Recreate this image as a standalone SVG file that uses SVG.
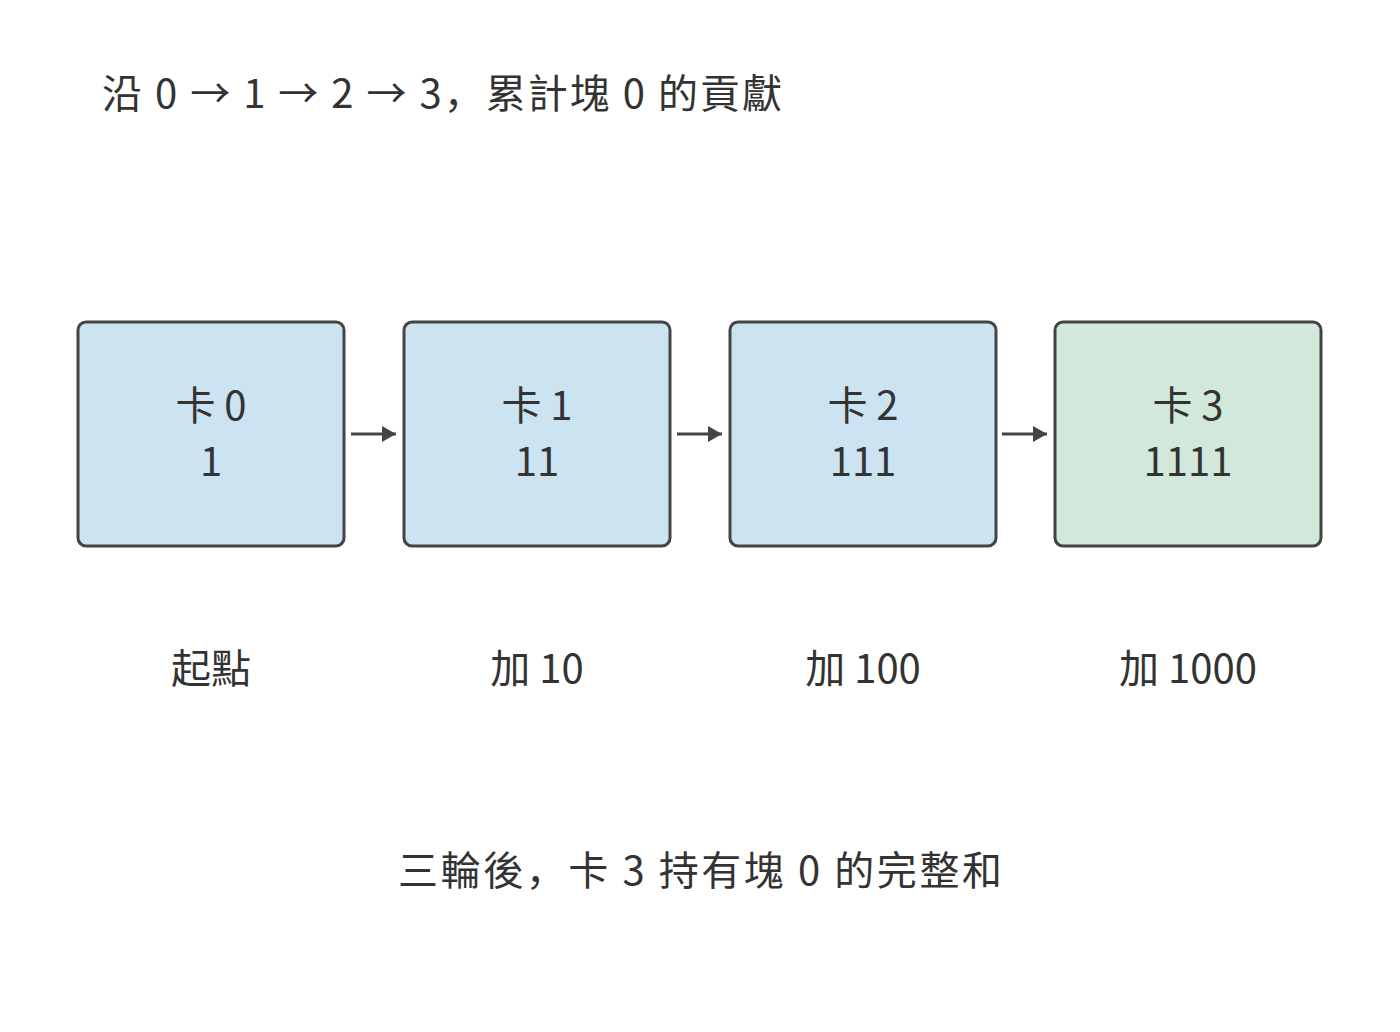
<svg xmlns="http://www.w3.org/2000/svg" width="1400" height="1032" viewBox="0 0 1400 1032">
<style>
text{font-family:"Noto Sans CJK SC","Noto Sans",sans-serif;fill:#333;text-anchor:middle}
.n{stroke:#444;stroke-width:3}
.b{fill:#cce3f2}.g{fill:#d1e8da}
.t{font-size:40px}
.c{stroke:#444;stroke-width:3;fill:none}
</style>
<defs><marker id="a" markerWidth="14" markerHeight="16" refX="14" refY="8" orient="auto" markerUnits="userSpaceOnUse" viewBox="0 0 14 16"><path d="M0,0L14,8L0,16z" fill="#444"/></marker></defs>
<rect width="1400" height="1032" fill="#fff"/>
<text x="442" y="108" class="t" textLength="680" lengthAdjust="spacing">沿 0 → 1 → 2 → 3，累計塊 0 的貢獻</text>
<g id="n0"><rect class="n b" x="78" y="322" width="266" height="224" rx="8"/><text x="211" y="420" class="t">卡 0</text><text x="211" y="476" class="t">1</text></g>
<g id="n1"><rect class="n b" x="404" y="322" width="266" height="224" rx="8"/><text x="537" y="420" class="t">卡 1</text><text x="537" y="476" class="t">11</text></g>
<g id="n2"><rect class="n b" x="730" y="322" width="266" height="224" rx="8"/><text x="863" y="420" class="t">卡 2</text><text x="863" y="476" class="t">111</text></g>
<g id="n3"><rect class="n g" x="1055" y="322" width="266" height="224" rx="8"/><text x="1188" y="420" class="t">卡 3</text><text x="1188" y="476" class="t">1111</text></g>
<g id="edges">
<path class="c" d="M351,434H396" marker-end="url(#a)"/>
<path class="c" d="M677,434H722" marker-end="url(#a)"/>
<path class="c" d="M1002,434H1047" marker-end="url(#a)"/>
</g>
<text x="211" y="683" class="t">起點</text>
<text x="537" y="683" class="t">加 10</text>
<text x="863" y="683" class="t">加 100</text>
<text x="1188" y="683" class="t">加 1000</text>
<text x="700" y="885" class="t" textLength="604" lengthAdjust="spacing">三輪後，卡 3 持有塊 0 的完整和</text>
</svg>
